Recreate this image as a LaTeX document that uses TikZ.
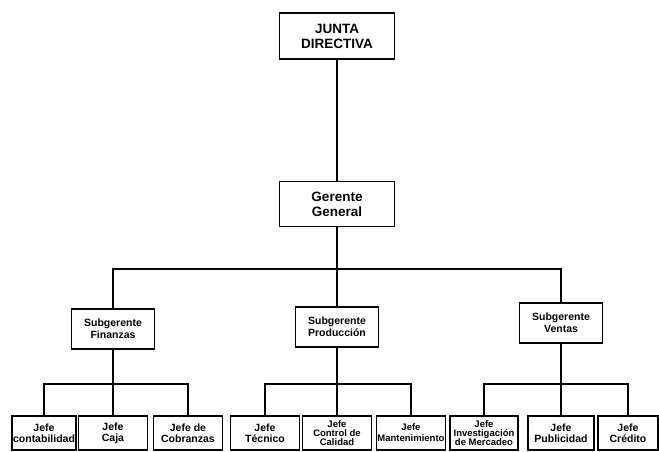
\documentclass[tikz,border=0pt]{standalone}
\usepackage{fontspec}
\setmainfont{Liberation Sans}
\usepackage{tikz}

\begin{document}
\begin{tikzpicture}[
  x=1pt, y=-1pt,
  box/.style={draw, line width=1.7pt, align=center, inner sep=1pt},
  headbox/.style={box, minimum width=115pt, minimum height=46pt, font=\bfseries\fontsize{13.5}{15}\selectfont},
  subbox/.style={box, minimum width=83pt, minimum height=40pt, font=\bfseries\fontsize{10.5}{12}\selectfont},
  jefebox/.style={box, minimum width=68pt, minimum height=34pt, font=\bfseries\fontsize{10.5}{11}\selectfont},
  tightbox/.style={jefebox, font=\bfseries\fontsize{9.5}{9}\selectfont},
  link/.style={draw, line width=1.4pt}
]
\useasboundingbox (0,0) rectangle (659,452);
\node[headbox] (junta) at (337,36) {JUNTA\\DIRECTIVA};
\node[headbox, minimum height=45pt] (gerente) at (337,204) {Gerente\\General};
\node[subbox] (finanzas) at (113,329) {Subgerente\\Finanzas};
\node[subbox] (produccion) at (337,327) {Subgerente\\Producción};
\node[subbox] (ventas) at (561,323) {Subgerente\\Ventas};
\node[jefebox, minimum width=64pt] (contab) at (44,433) {Jefe\\contabilidad};
\node[jefebox, minimum width=69pt] (caja) at (113,433) {Jefe\\Caja};
\node[jefebox, minimum width=69pt] (cobranzas) at (188,433) {Jefe de\\Cobranzas};
\node[jefebox, minimum width=69pt] (tecnico) at (265,433) {Jefe\\Técnico};
\node[tightbox, minimum width=69pt] (control) at (337,433) {Jefe\\Control de\\Calidad};
\node[jefebox, font=\bfseries\fontsize{9.5}{11}\selectfont] (mantenimiento) at (411,433) {Jefe\\Mantenimiento};
\node[tightbox] (investigacion) at (484,433) {Jefe\\Investigación\\de Mercadeo};
\node[jefebox, minimum width=66pt] (publicidad) at (561,433) {Jefe\\Publicidad};
\node[jefebox, minimum width=60pt] (credito) at (628,433) {Jefe\\Crédito};
\coordinate (bar) at (337,269);
\coordinate (low) at (0,384);
\draw[link] (junta) -- (gerente);
\foreach \s in {finanzas, produccion, ventas}
  \draw[link] (gerente.south) |- (bar) -| (\s.north);
\foreach \s/\a/\b/\c in {finanzas/contab/caja/cobranzas, produccion/tecnico/control/mantenimiento, ventas/investigacion/publicidad/credito}
  \foreach \j in {\a,\b,\c}
    \draw[link] (\s.south) -- (\s.south |- low) -| (\j.north);
\end{tikzpicture}
\end{document}
